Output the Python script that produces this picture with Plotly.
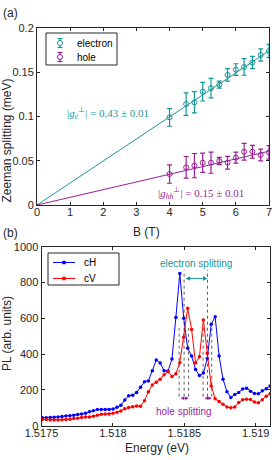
import plotly.graph_objects as go

# ---------------- data: panel (a) ----------------
B_field = [4, 4.5, 4.75, 5, 5.25, 5.5, 5.75, 6, 6.25, 6.5, 6.75, 7]
zs_electron = [0.099, 0.114, 0.116, 0.128, 0.132, 0.136, 0.147, 0.153, 0.156, 0.161, 0.1695, 0.174]
err_electron = [0.010, 0.0128, 0.012, 0.0105, 0.011, 0.004, 0.007, 0.0066, 0.0094, 0.007, 0.007, 0.0075]
zs_hole = [0.035, 0.0426, 0.0445, 0.0478, 0.0478, 0.0497, 0.0478, 0.0535, 0.0602, 0.0602, 0.0565, 0.0595]
err_hole = [0.0104, 0.0122, 0.0137, 0.0109, 0.0119, 0.0041, 0.0072, 0.0062, 0.0094, 0.0072, 0.0066, 0.0077]
fit_B = [0, 7]
fit_electron = [0, 0.1742]
fit_hole = [0, 0.0608]

# ---------------- data: panel (b) ----------------
energy = [1.5175060, 1.5175335, 1.5175610, 1.5175885, 1.5176160, 1.5176435, 1.5176710, 1.5176985,
          1.5177260, 1.5177535, 1.5177810, 1.5178085, 1.5178360, 1.5178635, 1.5178910, 1.5179185,
          1.5179460, 1.5179735, 1.5180010, 1.5180285, 1.5180560, 1.5180835, 1.5181110, 1.5181385,
          1.5181660, 1.5181935, 1.5182210, 1.5182485, 1.5182760, 1.5183035, 1.5183310, 1.5183585,
          1.5183860, 1.5184135, 1.5184410, 1.5184685, 1.5184960, 1.5185235, 1.5185510, 1.5185785,
          1.5186060, 1.5186335, 1.5186610, 1.5186885, 1.5187160, 1.5187435, 1.5187710, 1.5187985,
          1.5188260, 1.5188535, 1.5188810, 1.5189085, 1.5189360, 1.5189635, 1.5189910, 1.5190185,
          1.5190460, 1.5190735, 1.5191010]
pl_cH = [45, 45, 46, 47, 49, 52, 54, 55, 58, 62, 66, 70,
         78, 84, 90, 91, 91, 91, 93, 103, 114, 144, 168, 170,
         186, 215, 246, 250, 307, 367, 350, 307, 305, 372, 605, 850,
         600, 433, 390, 314, 280, 294, 376, 567, 609, 390, 260, 190,
         158, 175, 186, 205, 209, 193, 180, 178, 195, 207, 222]
pl_cV = [35, 34, 32, 32, 32, 33, 35, 36, 40, 42, 46, 48,
         48, 53, 58, 64, 65, 66, 70, 75, 82, 95, 102, 106,
         110, 108, 140, 190, 228, 243, 260, 285, 302, 275, 290, 352,
         494, 656, 538, 350, 385, 590, 405, 222, 150, 135, 120, 105,
         100, 105, 130, 145, 148, 147, 133, 128, 145, 165, 178]

# splitting markers (energies in eV, heights in arb. units)
e_split_lines = [1.5184986, 1.5186622]
h_split_lines = [1.5184636, 1.5185301, 1.5186315, 1.5186923]
e_line_span = [162, 871]
h_line_span = [162, 545]
e_arrow_y = 823
h_arrow_y = 153

teal = "#16979a"
purple = "#991f99"
axc = "#262626"
sans = "Liberation Sans, Arial, sans-serif"
serif = "Liberation Serif, Times New Roman, serif"

W, H = 280, 460
def px(x):
    return x / W
def py(y):
    return 1 - y / H

fig = go.Figure()

# panel (a)
fig.add_trace(go.Scatter(x=fit_B, y=fit_electron, mode="lines", line=dict(color=teal, width=1),
                         showlegend=False, hoverinfo="skip", xaxis="x", yaxis="y"))
fig.add_trace(go.Scatter(x=fit_B, y=fit_hole, mode="lines", line=dict(color=purple, width=1),
                         showlegend=False, hoverinfo="skip", xaxis="x", yaxis="y"))
fig.add_trace(go.Scatter(x=B_field, y=zs_electron, mode="markers", name="electron", showlegend=False,
                         marker=dict(symbol="circle-open", size=5, color=teal, line=dict(width=1, color=teal)),
                         error_y=dict(type="data", array=err_electron, color=teal, thickness=1.2, width=2.5),
                         xaxis="x", yaxis="y"))
fig.add_trace(go.Scatter(x=B_field, y=zs_hole, mode="markers", name="hole", showlegend=False,
                         marker=dict(symbol="circle-open", size=5, color=purple, line=dict(width=1, color=purple)),
                         error_y=dict(type="data", array=err_hole, color=purple, thickness=1.2, width=2.5),
                         xaxis="x", yaxis="y"))

# panel (b)
fig.add_trace(go.Scatter(x=energy, y=pl_cH, mode="lines+markers", name="cH", showlegend=False,
                         line=dict(color="#0000ff", width=1), marker=dict(size=3.5, color="#0000ff"),
                         xaxis="x2", yaxis="y2"))
fig.add_trace(go.Scatter(x=energy, y=pl_cV, mode="lines+markers", name="cV", showlegend=False,
                         line=dict(color="#ff0000", width=1), marker=dict(size=3.5, color="#ff0000"),
                         xaxis="x2", yaxis="y2"))

shapes = []
for e in e_split_lines:
    shapes.append(dict(type="line", xref="x2", yref="y2", x0=e, x1=e, y0=e_line_span[0], y1=e_line_span[1],
                       line=dict(color="#333333", width=0.8, dash="dot")))
for e in h_split_lines:
    shapes.append(dict(type="line", xref="x2", yref="y2", x0=e, x1=e, y0=h_line_span[0], y1=h_line_span[1],
                       line=dict(color="#333333", width=0.8, dash="dot")))

annotations = []
def arrow(x0, x1, y, color, size=0.9):
    return dict(x=x1, y=y, ax=x0, ay=y, xref="x2", yref="y2", axref="x2", ayref="y2",
                text="", showarrow=True, arrowhead=2, startarrowhead=2, arrowside="end+start",
                arrowsize=size, startarrowsize=size, arrowwidth=1, arrowcolor=color,
                standoff=0, startstandoff=0)

annotations.append(arrow(e_split_lines[0], e_split_lines[1], e_arrow_y, teal))
annotations.append(arrow(h_split_lines[0], h_split_lines[1], h_arrow_y, purple, 0.7))
annotations.append(arrow(h_split_lines[2], h_split_lines[3], h_arrow_y, purple, 0.7))

annotations.append(dict(x=(e_split_lines[0] + e_split_lines[1]) / 2, y=907, xref="x2", yref="y2",
                        text="electron splitting", showarrow=False, xanchor="center", yanchor="middle",
                        font=dict(family=sans, size=10, color=teal)))
annotations.append(dict(x=1.5184944, y=78, xref="x2", yref="y2", text="hole splitting", showarrow=False,
                        xanchor="center", yanchor="middle",
                        font=dict(family=sans, size=10, color=purple)))

def ptext(x, y, text, size, color, family=sans, angle=0, xanchor="center"):
    return dict(x=px(x), y=py(y), xref="paper", yref="paper", showarrow=False, text=text,
                textangle=angle, xanchor=xanchor, yanchor="middle",
                font=dict(family=family, size=size, color=color))

# g-factor labels
annotations.append(ptext(107.5, 113, "|<i>g</i><sub><i>e</i></sub><sup>⊥</sup>| = 0.43 ± 0.01", 11, teal, serif))
annotations.append(ptext(201, 193, "|<i>g</i><sub><i>hh</i></sub><sup>⊥</sup>| = 0.15 ± 0.01", 11, purple, serif))

# panel letters and axis titles
annotations.append(ptext(10, 13, "(a)", 12, axc))
annotations.append(ptext(10, 233, "(b)", 12, axc))
annotations.append(ptext(146, 232, "B (T)", 12, axc))
annotations.append(ptext(157, 448, "Energy (eV)", 12, axc))
annotations.append(ptext(6.5, 141, "Zeeman splitting (meV)", 12, axc, angle=-90))
annotations.append(ptext(7, 334, "PL (arb. units)", 12, axc, angle=-90))

# ---------- legends (drawn as boxes, icons and text) ----------
legend_a = [("electron", teal, 43), ("hole", purple, 57)]
legend_b = [("cH", "#0000ff", 262.5), ("cV", "#ff0000", 278.5)]

shapes.append(dict(type="rect", xref="paper", yref="paper", x0=px(46), x1=px(117), y0=py(65), y1=py(33),
                   line=dict(color=axc, width=1), fillcolor="white", layer="above"))
for name, col, yy in legend_a:
    cx = 60
    shapes.append(dict(type="line", xref="paper", yref="paper", x0=px(cx), x1=px(cx), y0=py(yy + 4.5), y1=py(yy - 4.5),
                       line=dict(color=col, width=1.2), layer="above"))
    for yc in (yy - 4.5, yy + 4.5):
        shapes.append(dict(type="line", xref="paper", yref="paper", x0=px(cx - 2.5), x1=px(cx + 2.5), y0=py(yc), y1=py(yc),
                           line=dict(color=col, width=1.2), layer="above"))
    shapes.append(dict(type="circle", xref="paper", yref="paper", x0=px(cx - 2.5), x1=px(cx + 2.5),
                       y0=py(yy + 2.5), y1=py(yy - 2.5), line=dict(color=col, width=1), fillcolor="white", layer="above"))
    annotations.append(ptext(75, yy, name, 10, "black", xanchor="left"))

shapes.append(dict(type="rect", xref="paper", yref="paper", x0=px(48), x1=px(119), y0=py(285), y1=py(253),
                   line=dict(color=axc, width=1), fillcolor="white", layer="above"))
for name, col, yy in legend_b:
    shapes.append(dict(type="line", xref="paper", yref="paper", x0=px(53), x1=px(75), y0=py(yy), y1=py(yy),
                       line=dict(color=col, width=1), layer="above"))
    shapes.append(dict(type="rect", xref="paper", yref="paper", x0=px(62.5), x1=px(65.5), y0=py(yy + 1.5), y1=py(yy - 1.5),
                       line=dict(color=col, width=0.5), fillcolor=col, layer="above"))
    annotations.append(ptext(82, yy, name, 10, "black", xanchor="left"))

axis_common = dict(showline=True, linecolor=axc, linewidth=1, mirror="ticks", ticks="inside",
                   ticklen=3, tickcolor=axc, showgrid=False, zeroline=False, automargin=False,
                   tickfont=dict(family=sans, size=11, color=axc))

fig.update_layout(
    template="none",
    width=W, height=H, autosize=False,
    margin=dict(l=0, r=0, t=0, b=0, pad=0, autoexpand=False),
    font=dict(family=sans, size=11, color=axc),
    paper_bgcolor="white", plot_bgcolor="white",
    showlegend=False,
    xaxis=dict(domain=[37 / W, 269 / W], range=[0, 7], tickvals=[0, 1, 2, 3, 4, 5, 6, 7],
               anchor="y", ticklabelstandoff=-3, **axis_common),
    yaxis=dict(domain=[1 - 205 / H, 1 - 28 / H], range=[0, 0.2],
               tickvals=[0, 0.05, 0.1, 0.15, 0.2], ticktext=["0", "0.05", "0.1", "0.15", "0.2"],
               anchor="x", **axis_common),
    xaxis2=dict(domain=[41.5 / W, 270 / W], range=[1.5175, 1.5191],
                tickvals=[1.5175, 1.518, 1.5185, 1.519], ticktext=["1.5175", "1.518", "1.5185", "1.519"],
                anchor="y2", ticklabelstandoff=-3, **axis_common),
    yaxis2=dict(domain=[1 - 425.7 / H, 1 - 246.7 / H], range=[0, 1000],
                tickvals=[0, 200, 400, 600, 800, 1000], anchor="x2", **axis_common),
    shapes=shapes,
    annotations=annotations,
)

fig.write_html("out.html", config={"displayModeBar": False},
               post_script="document.body.style.margin='0';document.body.style.overflow='hidden';")
